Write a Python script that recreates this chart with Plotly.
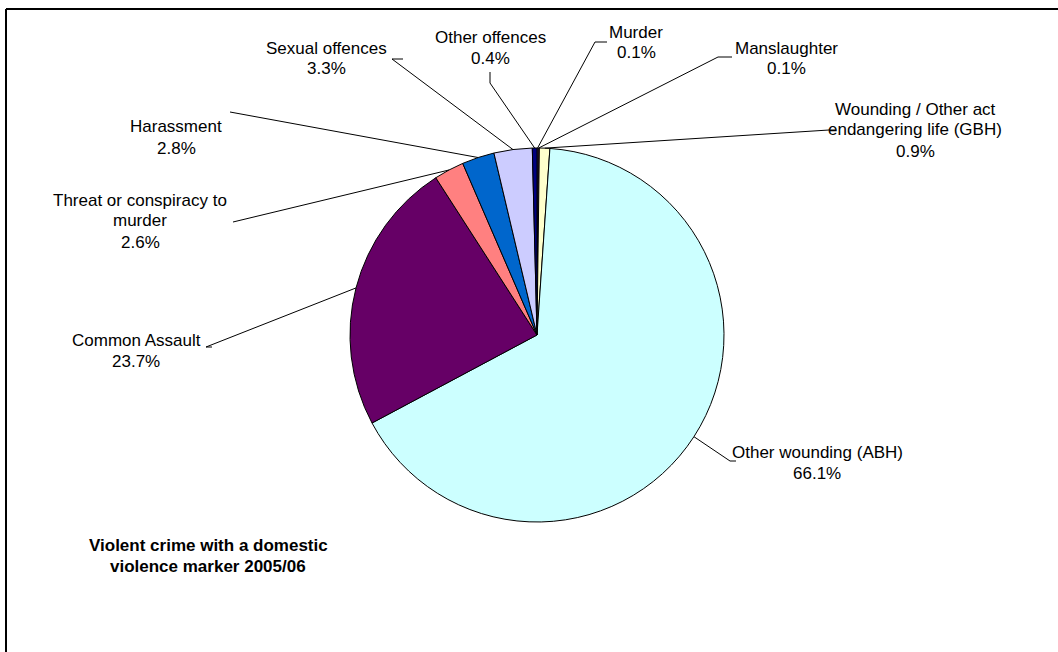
import math
import plotly.graph_objects as go

# Violent crime with a domestic violence marker, 2005/06 (share of offences, %)
categories = [
    "Murder",
    "Manslaughter",
    "Wounding / Other act endangering life (GBH)",
    "Other wounding (ABH)",
    "Common Assault",
    "Threat or conspiracy to murder",
    "Harassment",
    "Sexual offences",
    "Other offences",
]
shares = [0.1, 0.1, 0.9, 66.1, 23.7, 2.6, 2.8, 3.3, 0.4]
label_lines = [
    ["Murder"],
    ["Manslaughter"],
    ["Wounding / Other act", "endangering life (GBH)"],
    ["Other wounding (ABH)"],
    ["Common Assault"],
    ["Threat or conspiracy to", "murder"],
    ["Harassment"],
    ["Sexual offences"],
    ["Other offences"],
]
title_lines = ["Violent crime with a domestic", "violence marker 2005/06"]
colors = ["#9999FF", "#993366", "#FFFFCC", "#CCFFFF", "#660066",
          "#FF8080", "#0066CC", "#CCCCFF", "#000080"]

W, H = 1058, 652
CX, CY, R = 537, 335, 187
FONT = "Liberation Sans, Arial, sans-serif"
FS = 17
LINE_H = 21


def fx(x):
    return x / W


def fy(y):
    return 1 - y / H


# label block: centre x and centre y of the first text line, in pixels
label_pos = [
    (636, 32), (786, 48), (915, 109), (817, 452), (136, 340),
    (140, 200), (176, 127), (326, 48), (490, 37),
]
# leader line points on the text side, in pixels
leader_text_end = [
    [(607, 42), (595, 42)],
    [(732, 57), (718, 57)],
    [(836, 130), (829, 130)],
    [(736, 461), (730, 461)],
    [(212, 347), (206, 347)],
    [(233, 222)],
    [(230, 112)],
    [(403, 59), (392, 59)],
    [(490, 72), (490, 83)],
]

fig = go.Figure(go.Pie(
    labels=categories,
    values=shares,
    sort=False,
    direction="clockwise",
    rotation=0,
    textinfo="none",
    hoverinfo="label+percent",
    marker=dict(colors=colors, line=dict(color="black", width=1)),
    domain=dict(x=[fx(CX - R), fx(CX + R)], y=[fy(CY + R), fy(CY - R)]),
    showlegend=False,
))


def text_block(lines, x, y0, bold=False):
    out = []
    for k, line in enumerate(lines):
        out.append(dict(
            x=fx(x), y=fy(y0 + k * LINE_H), xref="paper", yref="paper",
            text=f"<b>{line}</b>" if bold else line,
            showarrow=False, xanchor="center", yanchor="middle",
            font=dict(family=FONT, size=FS, color="black"),
        ))
    return out


total = sum(shares)
shapes = []
annotations = []
cum = 0.0
for i, v in enumerate(shares):
    mid = (cum + v / 2) / total
    cum += v
    ang = 2 * math.pi * mid
    ex = CX + R * math.sin(ang)
    ey = CY - R * math.cos(ang)
    pts = leader_text_end[i] + [(ex, ey)]
    path = "M " + " L ".join(f"{fx(x)},{fy(y)}" for x, y in pts)
    shapes.append(dict(type="path", xref="paper", yref="paper", path=path,
                       line=dict(color="black", width=1)))
    lx, ly = label_pos[i]
    annotations += text_block(label_lines[i] + [f"{v:.1f}%"], lx, ly)

annotations += text_block(title_lines, 208, 545, bold=True)

# chart frame: top and left edges (the rest runs off the page)
shapes.append(dict(type="line", xref="paper", yref="paper",
                   x0=fx(6), y0=fy(9), x1=1.0, y1=fy(9),
                   line=dict(color="black", width=2)))
shapes.append(dict(type="line", xref="paper", yref="paper",
                   x0=fx(6), y0=fy(9), x1=fx(6), y1=0.0,
                   line=dict(color="black", width=2)))

fig.update_layout(
    width=W, height=H,
    margin=dict(l=0, r=0, t=0, b=0),
    paper_bgcolor="white", plot_bgcolor="white",
    shapes=shapes, annotations=annotations,
    font=dict(family=FONT, size=FS, color="black"),
)

fig.write_html("out.html", config={"displayModeBar": False})
